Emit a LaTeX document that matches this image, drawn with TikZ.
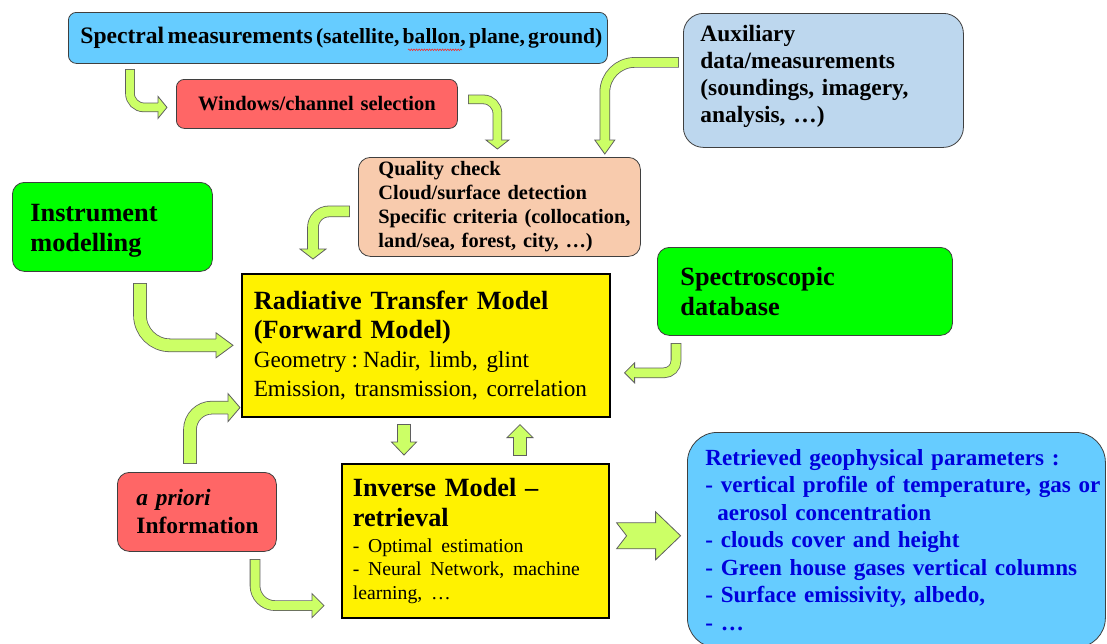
\documentclass[tikz,border=0pt]{standalone}
\usepackage{fontspec}
\setmainfont{Liberation Serif}
\usetikzlibrary{calc,decorations.pathmorphing}

\definecolor{skyblue}{HTML}{66CCFF}
\definecolor{salmon}{HTML}{FF6666}
\definecolor{paleblue}{HTML}{BDD7EE}
\definecolor{peach}{HTML}{F8CBAD}
\definecolor{brightgreen}{HTML}{00FF00}
\definecolor{boxline}{HTML}{3F3F3F}
\definecolor{arrowfill}{HTML}{CCFF66}
\definecolor{arrowline}{HTML}{5F5F5F}
\definecolor{deepblue}{HTML}{0000DD}
\definecolor{spellred}{HTML}{F03030}

\tikzset{
  card/.style={draw=boxline, line width=0.8pt, rounded corners=#1, anchor=north west,
               align=left, inner ysep=0pt},
  card/.default=12pt,
  model/.style={draw=black, line width=1.6pt, fill=yellow, anchor=north west,
                align=left, inner ysep=0pt},
  spellmark/.style={spellred, line width=0.6pt, decorate,
                    decoration={snake, amplitude=0.8pt, segment length=2.6pt}},
}

% block arrow: shaft width, head half width, head length, bend radius, tail, path op, tip, direction
\newcommand{\blockarrow}[8]{%
  \coordinate (tip) at #7;
  \coordinate (root) at ($(tip)+(#8+180:#3)$);
  \draw[arrowline, line width=#1+1.6pt, rounded corners=#4, shorten <=-0.8pt] #5 #6 (root);
  \filldraw[fill=arrowfill, draw=arrowline, line width=0.8pt, line join=miter]
    ($(root)+(#8+90:#2)$) -- (tip) -- ($(root)+(#8-90:#2)$) -- cycle;
  \draw[arrowfill, line width=#1, rounded corners=#4] #5 #6 (root);
  \draw[arrowfill, line width=#1] (root) -- ($(root)+(#8:1.5pt)$);
}

\begin{document}
\frenchspacing
\begin{tikzpicture}[x=1pt, y=-1pt]
  \path[use as bounding box, fill=white] (0,0) rectangle (1107,643);

  % boxes
  \node[card=8pt, fill=skyblue, text width=515pt, inner xsep=12pt, minimum height=51pt,
        font=\bfseries] (spec) at (68,12)
       {\mbox{\fontsize{23.6}{28}\selectfont Spectral measurements \fontsize{21.6}{28}\selectfont(satellite, ballon, plane, ground)}};
  \node[card=8pt, fill=salmon, text width=265pt, inner xsep=8pt, align=center, minimum height=49pt,
        font=\bfseries\fontsize{20.5}{24}\selectfont] (win) at (176,79) {Windows/channel selection};
  \node[card=20pt, fill=paleblue, text width=246pt, inner xsep=17pt, minimum height=134pt,
        font=\bfseries\fontsize{23.4}{27.3}\selectfont] (aux) at (683,13)
       {Auxiliary\\data/measurements\\(soundings, imagery,\\analysis, …)\rule[-13pt]{0pt}{13pt}};
  \node[card, fill=peach, text width=242pt, inner xsep=20pt, minimum height=99pt,
        font=\bfseries\fontsize{20.4}{24}\selectfont] (qual) at (358,157)
       {Quality check\\Cloud/surface detection\\\mbox{Specific criteria (collocation,}\\land/sea, forest, city, …)};
  \node[card, fill=brightgreen, text width=164pt, inner xsep=18pt, minimum height=89pt,
        font=\bfseries\fontsize{26.3}{30}\selectfont] (instr) at (12,182) {\rule{0pt}{24pt}Instrument\\modelling};
  \node[card, fill=brightgreen, text width=249pt, inner xsep=23pt, minimum height=88pt,
        font=\bfseries\fontsize{26.3}{30}\selectfont] (sdb) at (657,247) {Spectroscopic\\database};
  \node[model, text width=344pt, inner xsep=12pt, minimum height=143pt,
        font=\fontsize{26.3}{29}\selectfont] (rtm) at (241,273)
       {\textbf{Radiative Transfer Model}\\\textbf{(Forward Model)}\\\fontsize{23.2}{29}\selectfont Geometry\hspace{5pt}:\hspace{5pt}Nadir, limb, glint\\Emission, transmission, correlation};
  \node[model, text width=245pt, inner xsep=11pt, minimum height=154pt,
        font=\fontsize{26.3}{23.5}\selectfont] (inv) at (341,463)
       {\textbf{Inverse Model –}\\[6.5pt]\textbf{retrieval}\\[2.5pt]\fontsize{19.7}{23.5}\selectfont - Optimal estimation\\- Neural Network, machine\\learning, …};
  \node[card, fill=salmon, text width=121pt, inner xsep=19pt, minimum height=79pt,
        font=\bfseries\fontsize{23.4}{28}\selectfont] (apriori) at (117,472) {\textit{a priori}\\Information};
  \node[card=30pt, fill=skyblue, text width=382pt, inner xsep=18pt, inner ysep=17pt, text=deepblue,
        font=\bfseries\fontsize{23.1}{27.5}\selectfont] (retr) at (687,432)
       {Retrieved geophysical parameters :\\\mbox{- vertical profile of temperature, gas or}\\\hspace*{12pt}aerosol concentration\\- clouds cover and height\\- Green house gases vertical columns\\- Surface emissivity, albedo,\\- …};

  % spell-check mark under "ballon"
  \draw[spellmark] ($(spec.south west)+(340,-14)$) -- ++(54,0);

  % arrows
  \blockarrow{8pt}{11pt}{9pt}{14pt}{($(spec.south west)+(62,6)$)}{|-}{($(win.west)+(-9,3.5)$)}{0}
  \blockarrow{8pt}{11.5pt}{9pt}{14pt}{($(win.east)+(11,-4.5)$)}{-|}{($(qual.north)+(-2,-8)$)}{-90}
  \blockarrow{9pt}{10pt}{14pt}{30pt}{($(aux.west)+(-5,-18)$)}{-|}{($(qual.north east)+(-36,-3)$)}{-90}
  \blockarrow{10pt}{13pt}{10pt}{16pt}{($(qual.west)+(-9,4.5)$)}{-|}{($(rtm.north west)+(72,-14)$)}{-90}
  \blockarrow{12pt}{12.5pt}{17pt}{30pt}{($(instr.south west)+(128,12)$)}{|-}{($(rtm.west)+(-8,0)$)}{0}
  \blockarrow{9pt}{10pt}{10pt}{12pt}{($(sdb.south west)+(19,8)$)}{|-}{($(rtm.east)+(14,27.5)$)}{180}
  \blockarrow{12pt}{12.5pt}{13pt}{1pt}{($(rtm.south west)+(163,7)$)}{--}{($(inv.north west)+(63,-8)$)}{-90}
  \blockarrow{12pt}{13pt}{13pt}{1pt}{($(inv.north west)+(179,-8)$)}{--}{($(rtm.south west)+(279,7)$)}{90}
  \blockarrow{12pt}{14pt}{12pt}{22pt}{($(apriori.north west)+(73,-9)$)}{|-}{($(rtm.south west)+(-1,-10)$)}{0}
  \blockarrow{9pt}{12pt}{12pt}{20pt}{($(apriori.south west)+(138,8)$)}{|-}{($(inv.south west)+(-17,-13)$)}{0}
  \filldraw[fill=arrowfill, draw=arrowline, line width=0.8pt, shift={(inv.east)}]
    (7,-18) -- (46,-18) -- (46,-29) -- (71,-5) -- (46,19) -- (46,8) -- (7,8) -- (17,-5) -- cycle;
\end{tikzpicture}
\end{document}
